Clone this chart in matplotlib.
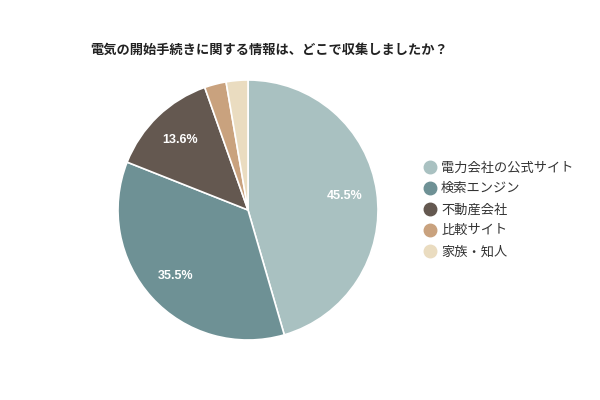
import matplotlib
matplotlib.use("Agg")
import matplotlib.pyplot as plt
from matplotlib.lines import Line2D

plt.rcParams['font.family'] = ['Noto Sans CJK JP', 'DejaVu Sans']

title = "電気の開始手続きに関する情報は、どこで収集しましたか？"
labels = ["電力会社の公式サイト", "検索エンジン", "不動産会社", "比較サイト", "家族・知人"]
values = [45.5, 35.5, 13.6, 2.7, 2.7]
colors = ["#a9c1c1", "#6e9195", "#645850", "#c9a27e", "#eadcc0"]

fig = plt.figure(figsize=(6, 4), dpi=100)
fig.patch.set_facecolor("white")
ax = fig.add_axes([118/600, 60/400, 260/600, 260/400])

def fmt(p):
    return f"{p:.1f}%" if p > 5 else ""

wedges, texts, autotexts = ax.pie(values, colors=colors, startangle=90, counterclock=False,
                                  autopct=fmt, pctdistance=0.75,
                                  wedgeprops=dict(edgecolor="white", linewidth=1.2),
                                  textprops=dict(color="white", fontsize=9,
                                                 fontweight="bold",
                                                 family=["Liberation Sans", "DejaVu Sans"]))
ax.set_xlim(-1, 1)
ax.set_ylim(-1, 1)
ax.set_aspect("equal")

fig.text(90/600, 1 - 50/400, title, fontsize=9.5, fontweight="bold", va="center", ha="left", color="#222222")

handles = [Line2D([0], [0], marker="o", linestyle="", markersize=9, markerfacecolor=c, markeredgecolor=c)
           for c in colors]
leg = fig.legend(handles, labels, loc="upper left", bbox_to_anchor=(422/600, 1 - 161.5/400),
                 frameon=False, fontsize=9.5, handletextpad=0.25, labelspacing=0.6,
                 handlelength=1.2, borderpad=0, borderaxespad=0)
for t in leg.get_texts():
    t.set_color("#333333")

fig.savefig("out.png", dpi=100)
